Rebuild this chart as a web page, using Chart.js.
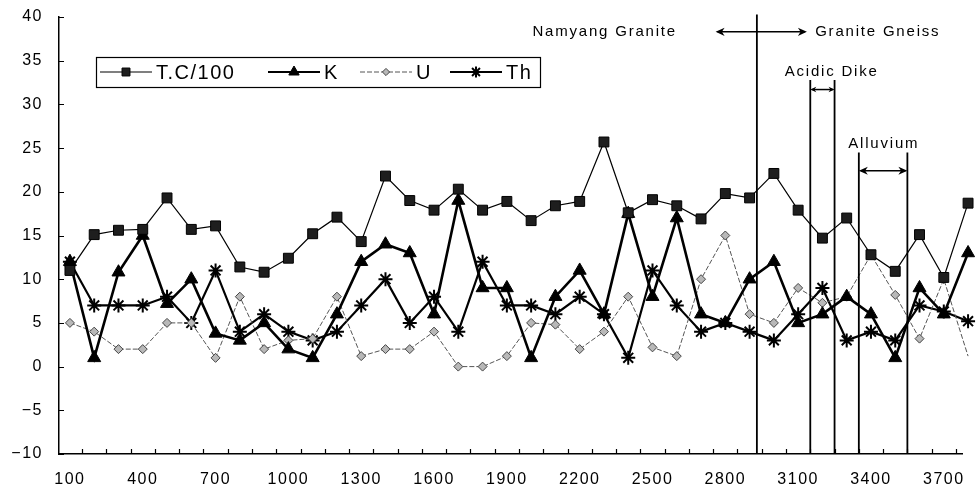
<!DOCTYPE html>
<html>
<head>
<meta charset="utf-8">
<script src="https://cdn.jsdelivr.net/npm/chart.js@4.4.1/dist/chart.umd.min.js"></script>
<style>
  html, body { margin: 0; padding: 0; background: #fff; }
  #wrap { width: 977px; height: 487px; position: relative; }
</style>
</head>
<body>
<div id="wrap"><canvas id="chartBase"></canvas></div>
<script>
// distance along the profile (m)
const distances = [100, 200, 300, 400, 500, 600, 700, 800, 900, 1000, 1100, 1200, 1300,
  1400, 1500, 1600, 1700, 1800, 1900, 2000, 2100, 2200, 2300, 2400, 2500, 2600,
  2700, 2800, 2900, 3000, 3100, 3200, 3300, 3400, 3500, 3600, 3700, 3800];

const tcValues = [11, 15.1, 15.6, 15.7, 19.3, 15.7, 16.1, 11.4, 10.8, 12.4, 15.2, 17.1, 14.3,
  21.8, 19, 17.9, 20.3, 17.9, 18.9, 16.7, 18.4, 18.9, 25.7, 17.6, 19.1, 18.4,
  16.9, 19.8, 19.3, 22.1, 17.9, 14.7, 17, 12.8, 10.9, 15.1, 10.2, 18.7];

const kValues = [12, 1, 10.8, 15, 7.2, 10, 3.8, 3, 5, 2, 1, 6, 12,
  14, 13, 6, 19, 9, 9, 1, 8, 11, 6, 17.5, 8, 17,
  6, 5, 10, 12, 5, 6, 8, 6, 1, 9, 6, 13];

const uValues = [5, 4, 2, 2, 5, 5, 1, 8, 2, 3, 3.2, 8, 1.2,
  2, 2, 4, 0, 0, 1.2, 5, 4.8, 2, 4, 8, 2.2, 1.2,
  10, 15, 6, 5, 9, 7.3, 8, 12.8, 8.2, 3.2, 10, 1.2];

const thValues = [12, 7, 7, 7, 8, 5, 11, 4, 6, 4, 3, 4, 7,
  10, 5, 8, 4, 12, 7, 7, 6, 8, 6, 1, 11, 7,
  4, 5, 4, 3, 6, 9, 3, 4, 3, 7, 6.3, 5.2];

const xTickLabels = [100, 400, 700, 1000, 1300, 1600, 1900, 2200, 2500, 2800, 3100, 3400, 3700];
const yTickLabels = [-10, -5, 0, 5, 10, 15, 20, 25, 30, 35, 40];

const seriesNames = ["T.C/100", "K", "U", "Th"];

// geology zones (x in m, y in chart units)
const zoneLines = [
  { x: 2930, top: 40.3 },
  { x: 3150, top: 32.8 },
  { x: 3250, top: 32.8 },
  { x: 3350, top: 24.5 },
  { x: 3550, top: 24.5 }
];
const zoneArrows = [
  { from: 2760, to: 3136, y: 38.3, head: 9 },
  { from: 3150, to: 3250, y: 31.7, head: 6 },
  { from: 3350, to: 3550, y: 22.4, head: 9 }
];
const zoneTexts = [
  { text: "Namyang Granite", x: 2303, y: 38.3 },
  { text: "Granite Gneiss", x: 3428, y: 38.3 },
  { text: "Acidic Dike", x: 3238, y: 33.7 },
  { text: "Alluvium", x: 3453, y: 25.5 }
];

const FONT = '"Liberation Sans", Arial, sans-serif';

function toPoints(vals) {
  return distances.map(function (d, i) { return { x: d, y: vals[i] }; });
}

function drawMarker(ctx, style, r, x, y, bw) {
  if (window.Chart && Chart.helpers && Chart.helpers.drawPoint) {
    Chart.helpers.drawPoint(ctx, { pointStyle: style, radius: r, rotation: 0, borderWidth: bw }, x, y);
  }
}

const zonePlugin = {
  id: "zonas",
  beforeDraw: function (chart) {
    chart.ctx.letterSpacing = "1.5px";
  },
  afterDraw: function (chart) {
    const ctx = chart.ctx;
    const xs = chart.scales.x;
    const ys = chart.scales.y;
    const area = chart.chartArea;

    ctx.save();
    ctx.strokeStyle = "#000";
    ctx.fillStyle = "#000";

    // small inward ticks
    ctx.lineWidth = 1.2;
    ctx.beginPath();
    for (let i = 0; i < distances.length - 1; i++) {
      const px = Math.round(xs.getPixelForValue(distances[i] + 50)) + 0.5;
      if (px > area.right) continue;
      ctx.moveTo(px, area.bottom);
      ctx.lineTo(px, area.bottom - 5);
    }
    for (let i = 0; i < yTickLabels.length; i++) {
      const py = Math.round(ys.getPixelForValue(yTickLabels[i])) + 0.5;
      ctx.moveTo(area.left, py);
      ctx.lineTo(area.left + 5, py);
    }
    ctx.stroke();

    // zone boundary lines
    ctx.lineWidth = 1.8;
    ctx.beginPath();
    for (let i = 0; i < zoneLines.length; i++) {
      const px = xs.getPixelForValue(zoneLines[i].x);
      ctx.moveTo(px, ys.getPixelForValue(zoneLines[i].top));
      ctx.lineTo(px, area.bottom);
    }
    ctx.stroke();

    // double arrows
    for (let i = 0; i < zoneArrows.length; i++) {
      const a = zoneArrows[i];
      const x1 = xs.getPixelForValue(a.from);
      const x2 = xs.getPixelForValue(a.to);
      const py = ys.getPixelForValue(a.y);
      const h = a.head;
      ctx.lineWidth = 1.5;
      ctx.beginPath();
      ctx.moveTo(x1 + 2, py);
      ctx.lineTo(x2 - 2, py);
      ctx.stroke();
      ctx.beginPath();
      ctx.moveTo(x1, py);
      ctx.lineTo(x1 + h, py - h * 0.45);
      ctx.lineTo(x1 + h * 0.7, py);
      ctx.lineTo(x1 + h, py + h * 0.45);
      ctx.closePath();
      ctx.moveTo(x2, py);
      ctx.lineTo(x2 - h, py - h * 0.45);
      ctx.lineTo(x2 - h * 0.7, py);
      ctx.lineTo(x2 - h, py + h * 0.45);
      ctx.closePath();
      ctx.fill();
    }

    // zone names
    ctx.font = "15px " + FONT;
    ctx.letterSpacing = "1.8px";
    ctx.textAlign = "center";
    ctx.textBaseline = "middle";
    for (let i = 0; i < zoneTexts.length; i++) {
      const t = zoneTexts[i];
      ctx.fillText(t.text, xs.getPixelForValue(t.x), ys.getPixelForValue(t.y));
    }

    // legend with border
    const ds = chart.data.datasets;
    const legendX = [100, 268, 360, 450];
    const ly = 72;
    ctx.lineWidth = 1.2;
    ctx.strokeRect(96.5, 57.5, 444, 30);
    ctx.font = "20px " + FONT;
    ctx.letterSpacing = "1.5px";
    ctx.textAlign = "left";
    for (let i = 0; i < ds.length; i++) {
      const d = ds[i];
      const x0 = legendX[i];
      ctx.save();
      ctx.strokeStyle = d.borderColor;
      ctx.lineWidth = Math.min(d.borderWidth, 2);
      ctx.setLineDash(d.borderDash || []);
      ctx.beginPath();
      ctx.moveTo(x0, ly);
      ctx.lineTo(x0 + 52, ly);
      ctx.stroke();
      ctx.setLineDash([]);
      ctx.fillStyle = d.pointBackgroundColor;
      ctx.strokeStyle = d.pointBorderColor;
      ctx.lineWidth = d.pointBorderWidth;
      drawMarker(ctx, d.pointStyle, d.pointRadius * 0.8, x0 + 26, ly, d.pointBorderWidth);
      ctx.restore();
      ctx.fillStyle = "#000";
      ctx.fillText(d.label, x0 + 56, ly + 1);
    }
    ctx.restore();
  }
};

function pintarChart() {
  const canvas = document.getElementById("chartBase");
  const ctx = canvas.getContext("2d");

  new Chart(ctx, {
    type: "line",
    data: {
      datasets: [
        {
          label: seriesNames[0],
          data: toPoints(tcValues),
          borderColor: "#000",
          borderWidth: 1.2,
          pointStyle: "rect",
          pointRadius: 7,
          pointBackgroundColor: "#1e1e1e",
          pointBorderColor: "#000",
          pointBorderWidth: 1
        },
        {
          label: seriesNames[1],
          data: toPoints(kValues),
          borderColor: "#000",
          borderWidth: 2.6,
          pointStyle: "triangle",
          pointRadius: 7.5,
          pointBackgroundColor: "#000",
          pointBorderColor: "#000",
          pointBorderWidth: 1
        },
        {
          label: seriesNames[2],
          data: toPoints(uValues),
          borderColor: "#555",
          borderWidth: 1,
          borderDash: [5, 2],
          pointStyle: "rectRot",
          pointRadius: 4.5,
          pointBackgroundColor: "#b8b8b8",
          pointBorderColor: "#444",
          pointBorderWidth: 1
        },
        {
          label: seriesNames[3],
          data: toPoints(thValues),
          borderColor: "#000",
          borderWidth: 2.2,
          pointStyle: "star",
          pointRadius: 7,
          pointBackgroundColor: "#000",
          pointBorderColor: "#000",
          pointBorderWidth: 2
        }
      ]
    },
    options: {
      responsive: true,
      maintainAspectRatio: false,
      animation: false,
      clip: false,
      layout: { padding: { top: 17, right: 15, left: 0, bottom: 0 } },
      elements: { line: { tension: 0 } },
      plugins: {
        legend: { display: false },
        tooltip: { enabled: false }
      },
      scales: {
        x: {
          type: "linear",
          min: 55,
          max: 3775,
          afterBuildTicks: function (axis) {
            axis.ticks = xTickLabels.map(function (v) { return { value: v }; });
          },
          afterFit: function (axis) {
            axis.height = 33;
            axis.paddingLeft = 0;
            axis.paddingRight = 0;
          },
          grid: { display: true, drawOnChartArea: false, drawTicks: false },
          border: { display: true, color: "#000", width: 1.5 },
          ticks: {
            autoSkip: false,
            maxRotation: 0,
            padding: 16,
            color: "#000",
            font: { family: FONT, size: 16 },
            callback: function (v) { return String(v); }
          }
        },
        y: {
          min: -10,
          max: 40,
          afterBuildTicks: function (axis) {
            axis.ticks = yTickLabels.map(function (v) { return { value: v }; });
          },
          afterFit: function (axis) {
            axis.width = 59;
            axis.paddingTop = 0;
            axis.paddingBottom = 0;
          },
          grid: { display: true, drawOnChartArea: false, drawTicks: false },
          border: { display: true, color: "#000", width: 1.5 },
          ticks: {
            padding: 16,
            color: "#000",
            font: { family: FONT, size: 16 },
            callback: function (v) { return String(v).replace("-", "\u2212"); }
          }
        }
      }
    },
    plugins: [zonePlugin]
  });
}

document.addEventListener("DOMContentLoaded", function () {
  pintarChart();
});
</script>
</body>
</html>
